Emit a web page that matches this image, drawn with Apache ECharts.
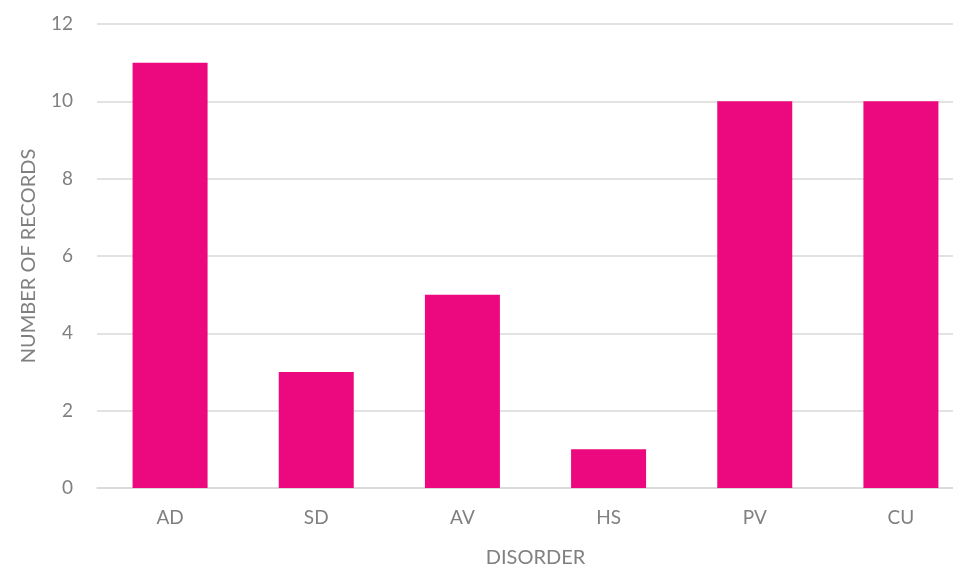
<!DOCTYPE html>
<html>
<head>
<meta charset="utf-8">
<script src="https://cdn.jsdelivr.net/npm/echarts@6/dist/echarts.min.js"></script>
<style>html,body{margin:0;padding:0;background:#fff;}#chart{width:953px;height:565px;}</style>
</head>
<body>
<div id="chart"></div>
<script>
const categories = ['AD', 'SD', 'AV', 'HS', 'PV', 'CU'];
const records = [11, 3, 5, 1, 10, 10];
const yTicks = [0, 2, 4, 6, 8, 10, 12];

const chart = echarts.init(document.getElementById('chart'));
const font = 'Lato, "Open Sans", sans-serif';
chart.setOption({
  animation: false,
  grid: { left: 97, top: 24, bottom: 77, width: 877, containLabel: false, outerBoundsMode: 'none' },
  xAxis: {
    type: 'category',
    data: categories,
    name: 'DISORDER',
    nameLocation: 'middle',
    nameGap: 60,
    nameTextStyle: { color: '#808080', fontSize: 20, fontFamily: font },
    axisLine: { show: true, lineStyle: { color: '#d9d9d9', width: 1.5 } },
    axisTick: { show: false },
    axisLabel: { color: '#808080', fontSize: 19, fontFamily: font, margin: 20 }
  },
  yAxis: {
    type: 'value',
    min: yTicks[0],
    max: yTicks[yTicks.length - 1],
    interval: 2,
    name: 'NUMBER OF RECORDS',
    nameLocation: 'middle',
    nameGap: 58,
    nameRotate: 90,
    nameTextStyle: { color: '#808080', fontSize: 20, fontFamily: font },
    axisLine: { show: false },
    axisTick: { show: false },
    axisLabel: { color: '#808080', fontSize: 19, fontFamily: font, margin: 24 },
    splitLine: { lineStyle: { color: '#d9d9d9', width: 1.5 } }
  },
  series: [{
    type: 'bar',
    data: records,
    barWidth: 75,
    itemStyle: { color: '#EC087E' }
  }]
});
</script>
</body>
</html>
